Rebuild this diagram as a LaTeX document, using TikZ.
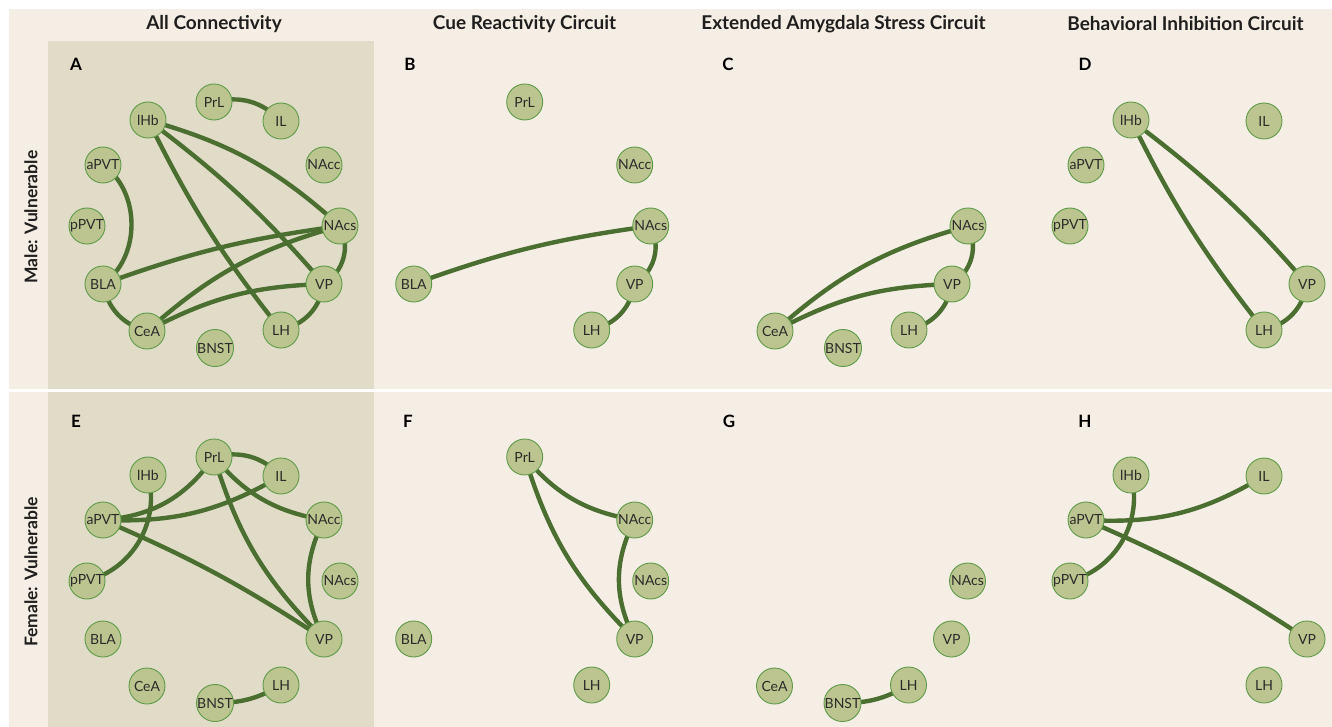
\documentclass[tikz,border=0pt]{standalone}
\usepackage{fontspec}
\setmainfont{Lato}
\definecolor{pagebg}{HTML}{F5EEE4}
\definecolor{panelshade}{HTML}{E0DCC8}
\definecolor{nodefill}{HTML}{BCC48F}
\definecolor{nodeline}{HTML}{5E9A48}
\definecolor{edgecol}{HTML}{4A6F30}
\definecolor{txt}{HTML}{2B2B2B}
\pgfdeclarelayer{back}
\pgfdeclarelayer{edges}
\pgfsetlayers{back,edges,main}
\newcommand\bn[3]{\node[bnode] (#1-#2) at (#3) {#2};}
\newcommand\ed[3]{\draw[edgeline] (#1.center) to[#3] (#2.center);}
\begin{document}
\begin{tikzpicture}[x=1pt,y=-1pt,
  bnode/.style={circle,draw=nodeline,fill=nodefill,line width=0.9pt,minimum size=36pt,inner sep=0pt,text=txt,font=\fontsize{14}{16}\selectfont},
  edgeline/.style={draw=edgecol,line width=4.4pt},
  header/.style={font=\bfseries\fontsize{19}{22}\selectfont,text=black!88},
  rowlab/.style={font=\bfseries\fontsize{17.5}{20}\selectfont,text=black!88,rotate=90},
  plet/.style={font=\bfseries\fontsize{17}{20}\selectfont,text=black}]
\useasboundingbox (0,0) rectangle (1332,727);
\begin{pgfonlayer}{back}
\fill[white] (0,0) rectangle (1332,727);
\fill[pagebg] (9,9) rectangle (1332,727);
\fill[panelshade] (48,41) rectangle (374,389);
\fill[panelshade] (48,392) rectangle (374,727);
\fill[white] (9,389) rectangle (1332,392);
\end{pgfonlayer}
% headers
\node[header] (h1) at (214,24) {All Connectivity};
\node[header] (h2) at (524.5,24) {Cue Reactivity Circuit};
\node[header] (h3) at (843.5,24) {Extended Amygdala Stress Circuit};
\node[header] (h4) at (1185.5,24) {Behavioral Inhibition Circuit};
\node[rowlab] (r1) at (31,217) {Male: Vulnerable};
\node[rowlab] (r2) at (31,572) {Female: Vulnerable};
% panel letters
\node[plet] (lA) at (76,64) {A};
\node[plet] (lB) at (410,64) {B};
\node[plet] (lC) at (728,64) {C};
\node[plet] (lD) at (1085,64) {D};
\node[plet] (lE) at (76,421) {E};
\node[plet] (lF) at (408,421) {F};
\node[plet] (lG) at (729,421) {G};
\node[plet] (lH) at (1085,421) {H};
% ---------- Panel A ----------
\begin{scope}[shift={(0,0)}]
\bn{A}{PrL}{214,102}\bn{A}{IL}{281,121}\bn{A}{lHb}{148,120}\bn{A}{aPVT}{103,165}
\bn{A}{NAcc}{324,165}\bn{A}{pPVT}{87,226}\bn{A}{NAcs}{340,226}\bn{A}{BLA}{103,284}
\bn{A}{VP}{324,284}\bn{A}{CeA}{147,331}\bn{A}{LH}{281,330}\bn{A}{BNST}{215,348}
\end{scope}
% ---------- Panel B ----------
\begin{scope}[shift={(310.7,0)}]
\bn{B}{PrL}{214,102}\bn{B}{NAcc}{324,165}\bn{B}{NAcs}{340,226}\bn{B}{BLA}{103,284}
\bn{B}{VP}{324,284}\bn{B}{LH}{281,330}
\end{scope}
% ---------- Panel C ----------
\begin{scope}[shift={(628,0)}]
\bn{C}{NAcs}{340,226}\bn{C}{VP}{324,284}\bn{C}{CeA}{147,331}\bn{C}{LH}{281,330}\bn{C}{BNST}{215,348}
\end{scope}
% ---------- Panel D ----------
\begin{scope}[shift={(983,0)}]
\bn{D}{lHb}{148,120}\bn{D}{IL}{281,121}\bn{D}{aPVT}{103,165}\bn{D}{pPVT}{87,226}
\bn{D}{VP}{324,284}\bn{D}{LH}{281,330}
\end{scope}
% ---------- Panel E ----------
\begin{scope}[shift={(0,355)}]
\bn{E}{PrL}{214,102}\bn{E}{IL}{281,121}\bn{E}{lHb}{148,120}\bn{E}{aPVT}{103,165}
\bn{E}{NAcc}{324,165}\bn{E}{pPVT}{87,226}\bn{E}{NAcs}{340,226}\bn{E}{BLA}{103,284}
\bn{E}{VP}{324,284}\bn{E}{CeA}{147,331}\bn{E}{LH}{281,330}\bn{E}{BNST}{215,348}
\end{scope}
% ---------- Panel F ----------
\begin{scope}[shift={(310.7,355)}]
\bn{F}{PrL}{214,102}\bn{F}{NAcc}{324,165}\bn{F}{NAcs}{340,226}\bn{F}{BLA}{103,284}
\bn{F}{VP}{324,284}\bn{F}{LH}{281,330}
\end{scope}
% ---------- Panel G ----------
\begin{scope}[shift={(627.5,355)}]
\bn{G}{NAcs}{340,226}\bn{G}{VP}{324,284}\bn{G}{CeA}{147,331}\bn{G}{LH}{281,330}\bn{G}{BNST}{215,348}
\end{scope}
% ---------- Panel H ----------
\begin{scope}[shift={(983,355)}]
\bn{H}{lHb}{148,120}\bn{H}{IL}{281,121}\bn{H}{aPVT}{103,165}\bn{H}{pPVT}{87,226}
\bn{H}{VP}{324,284}\bn{H}{LH}{281,330}
\end{scope}
% ---------- Edges ----------
\begin{pgfonlayer}{edges}
% A
\ed{A-PrL}{A-IL}{bend left=30}
\ed{A-lHb}{A-NAcs}{bend left=13}
\ed{A-lHb}{A-VP}{bend left=6}
\ed{A-lHb}{A-LH}{bend right=6}
\ed{A-aPVT}{A-BLA}{bend left=55}
\ed{A-BLA}{A-NAcs}{bend left=6}
\ed{A-BLA}{A-CeA}{bend right=32}
\ed{A-CeA}{A-NAcs}{bend left=13}
\ed{A-CeA}{A-VP}{bend left=13}
\ed{A-NAcs}{A-VP}{bend left=42}
\ed{A-VP}{A-LH}{bend left=33}
% B
\ed{B-BLA}{B-NAcs}{bend left=6}
\ed{B-NAcs}{B-VP}{bend left=42}
\ed{B-VP}{B-LH}{bend left=33}
% C
\ed{C-CeA}{C-NAcs}{bend left=13}
\ed{C-CeA}{C-VP}{bend left=13}
\ed{C-NAcs}{C-VP}{bend left=42}
\ed{C-VP}{C-LH}{bend left=33}
% D
\ed{D-lHb}{D-VP}{bend left=6}
\ed{D-lHb}{D-LH}{bend right=6}
\ed{D-VP}{D-LH}{bend left=33}
% E
\ed{E-PrL}{E-IL}{bend left=30}
\ed{E-PrL}{E-aPVT}{bend left=25}
\ed{E-IL}{E-aPVT}{bend left=16}
\ed{E-lHb}{E-pPVT}{bend left=45}
\ed{E-PrL}{E-NAcc}{bend right=20}
\ed{E-PrL}{E-VP}{bend right=14}
\ed{E-aPVT}{E-VP}{bend left=5}
\ed{E-NAcc}{E-VP}{bend right=27}
\ed{E-BNST}{E-LH}{bend right=15}
% F
\ed{F-PrL}{F-NAcc}{bend right=20}
\ed{F-PrL}{F-VP}{bend right=14}
\ed{F-NAcc}{F-VP}{bend right=27}
% G
\ed{G-BNST}{G-LH}{bend right=15}
% H
\ed{H-IL}{H-aPVT}{bend left=17}
\ed{H-lHb}{H-pPVT}{bend left=45}
\ed{H-aPVT}{H-VP}{bend left=5}
\end{pgfonlayer}
\end{tikzpicture}
\end{document}
